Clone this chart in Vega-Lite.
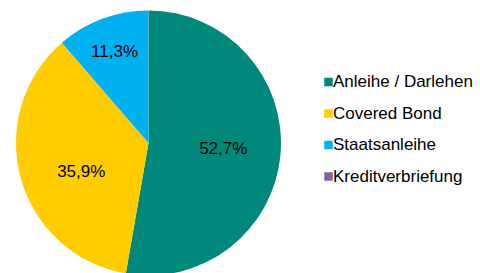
{
  "$schema": "https://vega.github.io/schema/vega-lite/v6.json",
  "width": 297,
  "height": 286,
  "padding": 0,
  "autosize": {"type": "pad"},
  "background": "white",
  "config": {
    "view": {"stroke": null},
    "locale": {"number": {"decimal": ",", "thousands": ".", "grouping": [3], "currency": ["", " €"]}},
    "font": "Liberation Sans"
  },
  "data": {
    "values": [
      {"category": "Anleihe / Darlehen", "share": 0.527},
      {"category": "Covered Bond", "share": 0.359},
      {"category": "Staatsanleihe", "share": 0.113},
      {"category": "Kreditverbriefung", "share": 0.0003}
    ]
  },
  "encoding": {
    "theta": {"field": "share", "type": "quantitative", "stack": true},
    "order": {"field": "share", "sort": "descending"}
  },
  "layer": [
    {
      "mark": {"type": "arc", "radius": 132.5},
      "encoding": {
        "color": {
          "field": "category",
          "type": "nominal",
          "sort": ["Anleihe / Darlehen", "Covered Bond", "Staatsanleihe", "Kreditverbriefung"],
          "scale": {
            "domain": ["Anleihe / Darlehen", "Covered Bond", "Staatsanleihe", "Kreditverbriefung"],
            "range": ["#00897A", "#FFCC00", "#00B0F0", "#8064A2"]
          },
          "legend": {
            "title": null,
            "orient": "none",
            "legendX": 320,
            "legendY": 73.5,
            "padding": 0,
            "symbolType": "square",
            "symbolSize": 72,
            "symbolStrokeWidth": 0,
            "labelFontSize": 17,
            "labelFont": "Liberation Sans",
            "labelColor": "#000000",
            "labelOffset": -4,
            "rowPadding": 13.5,
            "labelLimit": 300
          }
        }
      }
    },
    {
      "mark": {
        "type": "text",
        "radius": {"expr": "datum.share < 0.2 ? 97 : 75"},
        "dx": {"expr": "datum.category == 'Covered Bond' ? 5 : 0"},
        "dy": {"expr": "datum.category == 'Covered Bond' ? 9 : 0"},
        "fontSize": 17,
        "font": "Liberation Sans",
        "color": "#000000",
        "align": "center",
        "baseline": "middle"
      },
      "encoding": {
        "text": {
          "condition": {"test": "datum.share > 0.01", "field": "share", "type": "quantitative", "format": ".1%"},
          "value": ""
        }
      }
    }
  ]
}
